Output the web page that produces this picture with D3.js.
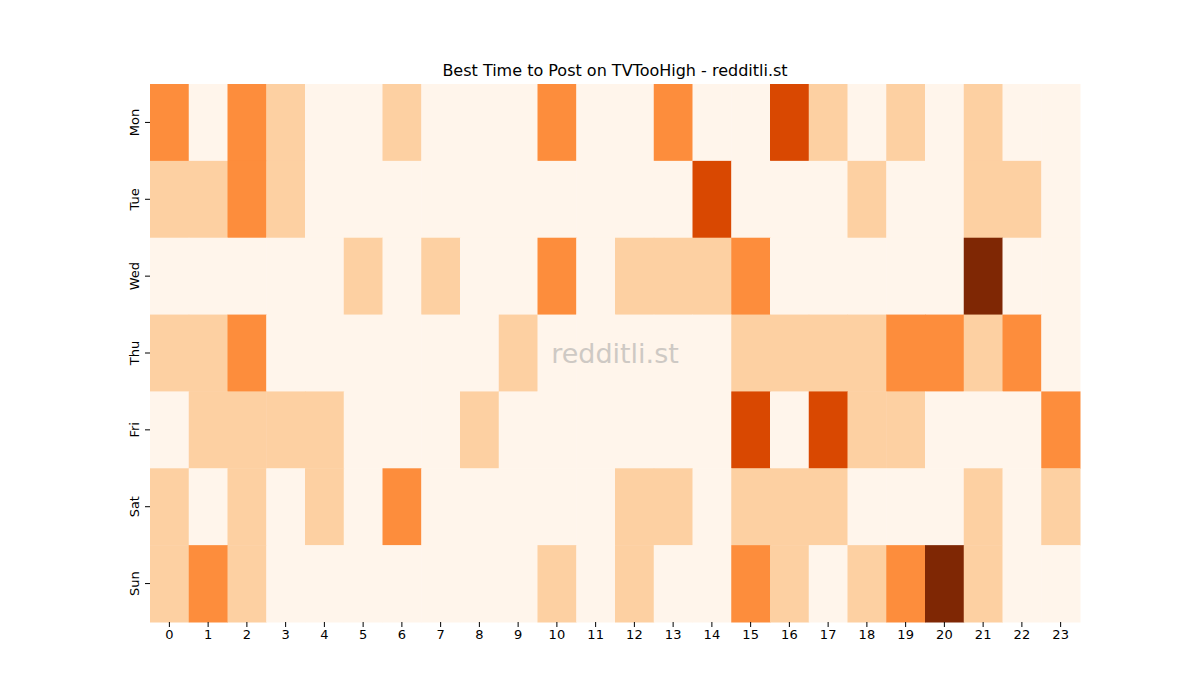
<!DOCTYPE html><html><head><meta charset="utf-8">
<script src="https://cdn.jsdelivr.net/npm/d3@7"></script>
<style>body{margin:0;background:#fff}</style></head><body><svg id="c" width="1200" height="700"></svg>
<script>
const days=["Mon","Tue","Wed","Thu","Fri","Sat","Sun"];
const hours=d3.range(24).map(String);
const values=[
[2,0,2,1,0,0,1,0,0,0,2,0,0,2,0,0,3,1,0,1,0,1,0,0],
[1,1,2,1,0,0,0,0,0,0,0,0,0,0,3,0,0,0,1,0,0,1,1,0],
[0,0,0,0,0,1,0,1,0,0,2,0,1,1,1,2,0,0,0,0,0,4,0,0],
[1,1,2,0,0,0,0,0,0,1,0,0,0,0,0,1,1,1,1,2,2,1,2,0],
[0,1,1,1,1,0,0,0,1,0,0,0,0,0,0,3,0,3,1,1,0,0,0,2],
[1,0,1,0,1,0,2,0,0,0,0,0,1,1,0,1,1,1,0,0,0,1,0,1],
[1,2,1,0,0,0,0,0,0,0,1,0,1,0,0,2,1,0,1,2,4,1,0,0]];
const palette=["#fff5eb","#fdd0a2","#fd8d3c","#d94801","#7f2704"];
const svg=d3.select("#c");
const x=d3.scaleBand().domain(hours).range([150,1080]);
const y=d3.scaleBand().domain(days).range([84,622]);
const col=d3.scaleOrdinal().domain([0,1,2,3,4]).range(palette);
values.forEach((row,i)=>row.forEach((v,j)=>{
 svg.append("rect").attr("x",x(hours[j])).attr("y",y(days[i])).attr("width",x.bandwidth()+0.5).attr("height",y.bandwidth()+0.5).attr("fill",col(v));
}));
const font="DejaVu Sans, sans-serif";
const ax=svg.append("g").attr("transform","translate(0,622)").call(d3.axisBottom(x).tickSize(5));
ax.select(".domain").remove();
ax.selectAll("text").attr("font-family",font).attr("font-size",13).attr("fill","#000");
const ay=svg.append("g").attr("transform","translate(150,0)").call(d3.axisLeft(y).tickSize(5));
ay.select(".domain").remove();
ay.selectAll("text").attr("font-family",font).attr("font-size",13).attr("fill","#000")
 .attr("transform","rotate(-90)").attr("x",0).attr("y",-10).attr("dy","0").attr("text-anchor","middle")
 .each(function(d){d3.select(this).attr("transform",`translate(-${12},${y(d)+y.bandwidth()/2}) rotate(-90)`).attr("x",0).attr("y",0).attr("dy","0.32em");});
ay.selectAll(".tick").attr("transform","translate(0,0)");
ay.selectAll(".tick line").each(function(d){d3.select(this).attr("y1",y(d)+y.bandwidth()/2).attr("y2",y(d)+y.bandwidth()/2);});
ay.selectAll(".tick text").attr("transform",d=>`translate(-15,${y(d)+y.bandwidth()/2}) rotate(-90)`);
svg.append("text").attr("x",615).attr("y",76).attr("text-anchor","middle").attr("font-family",font).attr("font-size",16).text("Best Time to Post on TVTooHigh - redditli.st");
svg.append("text").attr("x",615).attr("y",363).attr("text-anchor","middle").attr("font-family",font).attr("font-size",27).attr("fill","#9e9e9e").attr("opacity",0.5).text("redditli.st");
</script></body></html>
